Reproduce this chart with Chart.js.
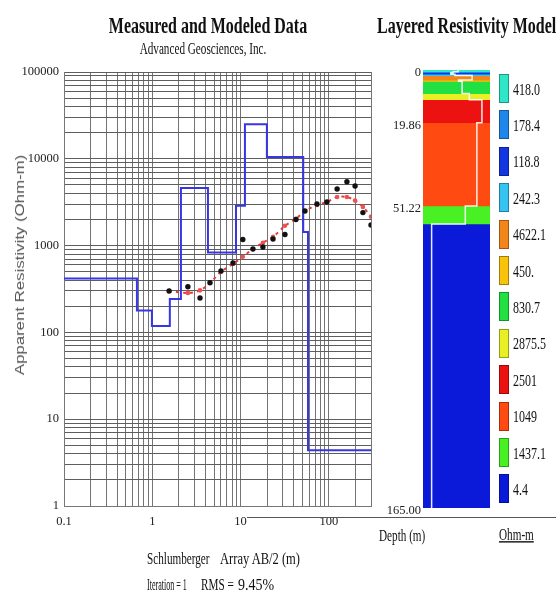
<!DOCTYPE html>
<html><head><meta charset="utf-8">
<script src="https://cdn.jsdelivr.net/npm/chart.js@4.4.1/dist/chart.umd.min.js"></script>
<style>
html,body{margin:0;padding:0;background:#fff;}
body{width:556px;height:593px;position:relative;overflow:hidden;font-family:"Liberation Serif","DejaVu Serif",serif;color:#111;}
.t{position:absolute;white-space:nowrap;line-height:1;}
.c{transform:translate(-50%,-50%) scaleY(1.4);}
.l{transform:translate(0,-50%) scaleY(1.4);transform-origin:left center;}
#c1{position:absolute;left:0;top:0;}
#c2{position:absolute;left:380px;top:0;}
.sw{position:absolute;width:8px;border:1px solid rgba(0,0,0,0.35);}
</style></head><body>
<canvas id="c1" width="380" height="593" style="width:380px;height:593px"></canvas>
<canvas id="c2" width="176" height="593" style="width:176px;height:593px"></canvas>
<div class="t c" style="left:208px;top:26px;font-weight:bold;font-size:16px;">Measured and Modeled Data</div>
<div class="t c" style="left:203px;top:49px;font-size:11.2px;">Advanced Geosciences, Inc.</div>
<div class="t l" style="left:377px;top:26px;font-weight:bold;font-size:16px;">Layered Resistivity Model</div>
<div class="t" style="left:20px;top:265px;font-family:'Liberation Sans',Arial,sans-serif;font-size:12px;color:#555;transform:translate(-50%,-50%) rotate(-90deg) scaleX(1.4);">Apparent Resistivity (Ohm-m)</div>
<div class="t l" style="left:147px;top:559px;font-size:11.2px;">Schlumberger</div>
<div class="t" style="left:220px;top:559px;font-size:11.2px;transform:translate(0,-50%) scale(1.12,1.4);transform-origin:left center;">Array AB/2 (m)</div>
<div class="t" style="left:147px;top:585px;font-size:11.2px;transform:translate(0,-50%) scale(0.72,1.4);transform-origin:left center;">Iteration = 1</div>
<div class="t l" style="left:201px;top:585px;font-size:11.2px;">RMS =</div>
<div class="t" style="left:238px;top:585px;font-size:11.2px;transform:translate(0,-50%) scale(1.25,1.4);transform-origin:left center;">9.45%</div>
<div class="t l" style="left:379px;top:536px;font-size:11.2px;">Depth (m)</div>
<div class="t l" style="left:499px;top:535px;font-size:11.2px;text-decoration:underline;">Ohm-m</div>
<div style="position:absolute;left:247px;top:517px;width:309px;height:1px;background:#555;"></div>
<div id="legend"></div>
<script>
// ---- Left chart data ----
const xGrid = [0.1,0.2,0.3,0.4,0.5,0.6,0.7,0.8,0.9,1,2,3,4,5,6,7,8,9,10,20,30,40,50,60,70,80,90,100,200,300];
const xTickValues = [0.1, 1, 10, 100];
const xTickLabels = ['0.1', '1', '10', '100'];
const yGrid = [1,2,3,4,5,6,7,8,9,10,20,30,40,50,60,70,80,90,100,200,300,400,500,600,700,800,900,
  1000,2000,3000,4000,5000,6000,7000,8000,9000,10000,20000,30000,40000,50000,60000,70000,80000,90000,100000];
const yTickValues = [1, 10, 100, 1000, 10000, 100000];
const yTickLabels = ['1', '10', '100', '1000', '10000', '100000'];

const abMeasured = [1.55, 2.53, 3.47, 4.5, 6.0, 8.2, 10.6, 13.8, 17.9, 23.3, 31.8, 42.4, 53.6, 73.3, 95, 124, 160, 198, 243, 300];
const rhoMeasured = [300, 336, 249, 374, 510, 630, 1175, 915, 963, 1190, 1343, 2000, 2505, 3015, 3180, 4490, 5450, 4860, 2400, 1725];
const rhoCalculated = [300, 285, 305, 370, 500, 615, 745, 915, 1080, 1260, 1690, 2040, 2500, 2940, 3180, 3630, 3630, 3300, 2790, 2150];

const modelAB = [0.1, 0.67, 0.99, 1.58, 2.11, 4.27, 8.87, 11.2, 19.86, 51.22, 58.0, 300];
const modelRho = [418, 178.4, 118.8, 242.3, 4622.1, 830.7, 2875.5, 25010, 10490, 1437.1, 4.4, 4.4];

// ---- Right column data ----
const layerLabels = ['418.0','178.4','118.8','242.3','4622.1','450.','830.7','2875.5','2501','1049','1437.1','4.4'];
const layerRes = [418.0, 178.4, 118.8, 242.3, 4622.1, 450, 830.7, 2875.5, 25010, 10490, 1437.1, 4.4];
const layerDepth = [0, 0.67, 0.99, 1.58, 2.11, 3.8, 4.27, 8.87, 11.2, 19.86, 51.22, 58.0, 165];
const layerColors = ['#2ee6c8','#1f86ea','#1236e0','#35c3f2','#f3861a','#f8c30a','#22e042','#e8f024','#ec1212','#ff4a12','#48f024','#0a1ad8'];
const depthTickValues = [0, 19.86, 51.22, 165];
const depthTickLabels = ['0', '19.86', '51.22', '165.00'];

Chart.defaults.font.family = "'Liberation Serif', serif";
Chart.defaults.color = '#222';

const pts = (xs, ys) => xs.map((x, i) => ({x: x, y: ys[i]}));

new Chart(document.getElementById('c1'), {
  type: 'scatter',
  data: {
    datasets: [
      {label: 'Measured', data: pts(abMeasured, rhoMeasured), showLine: false,
       pointRadius: 2.7, pointBackgroundColor: '#111', pointBorderColor: '#111', pointBorderWidth: 0, order: 0},
      {label: 'Calculated', data: pts(abMeasured, rhoCalculated), showLine: true, tension: 0.3,
       borderColor: '#e23a3a', borderWidth: 2, borderDash: [3, 4],
       pointRadius: 2.3, pointBackgroundColor: '#f05050', pointBorderWidth: 0, order: 1},
      {label: 'Model', data: pts(modelAB, modelRho), showLine: true, stepped: true,
       borderColor: '#3636e4', borderWidth: 2, pointRadius: 0, order: 2}
    ]
  },
  options: {
    responsive: false, animation: false, devicePixelRatio: 1,
    layout: {padding: {left: 0, right: 9, top: 72, bottom: 53}},
    plugins: {legend: {display: false}, tooltip: {enabled: false}},
    scales: {
      x: {
        type: 'logarithmic', min: 0.1, max: 300,
        afterBuildTicks: s => { s.ticks = xGrid.map(v => ({value: v})); },
        afterFit: s => { s.height = 34; },
        ticks: {autoSkip: false, maxRotation: 0, padding: 8, font: {size: 12.5},
          callback: v => { const i = xTickValues.indexOf(v); return i >= 0 ? xTickLabels[i] : ''; }},
        grid: {color: '#747474', lineWidth: 1, drawTicks: false},
        border: {color: '#777'}
      },
      y: {
        type: 'logarithmic', min: 1, max: 100000,
        afterBuildTicks: s => { s.ticks = yGrid.map(v => ({value: v})); },
        afterFit: s => { s.width = 64; },
        ticks: {autoSkip: false, padding: 5, font: {size: 12.5},
          callback: v => { const i = yTickValues.indexOf(v); return i >= 0 ? yTickLabels[i] : ''; }},
        grid: {color: '#5e5e5e', lineWidth: 1, drawTicks: false},
        border: {color: '#777'}
      }
    }
  }
});

// column chart
const barSets = layerRes.map((r, i) => ({
  type: 'bar', label: layerLabels[i], data: [[layerDepth[i], layerDepth[i + 1]]],
  backgroundColor: layerColors[i], borderWidth: 0, grouped: false,
  barPercentage: 1, categoryPercentage: 1, xAxisID: 'x', yAxisID: 'y', order: 1
}));
const stepPts = [];
layerRes.forEach((r, i) => { stepPts.push({x: r, y: layerDepth[i]}); stepPts.push({x: r, y: layerDepth[i + 1]}); });

new Chart(document.getElementById('c2'), {
  type: 'bar',
  data: {
    labels: ['Layers'],
    datasets: barSets.concat([{
      type: 'line', label: 'Model', data: stepPts, xAxisID: 'x2', yAxisID: 'y',
      borderColor: 'rgba(255,255,255,0.9)', borderWidth: 1.5, pointRadius: 0, fill: false, order: 0
    }])
  },
  options: {
    responsive: false, animation: false, devicePixelRatio: 1,
    layout: {padding: {left: 0, right: 66, top: 70, bottom: 85}},
    plugins: {legend: {display: false}, tooltip: {enabled: false}},
    scales: {
      x: {type: 'category', display: false},
      x2: {type: 'logarithmic', display: false, min: 1, max: 100000},
      y: {
        type: 'linear', reverse: true, min: 0, max: 165,
        afterBuildTicks: s => { s.ticks = depthTickValues.map(v => ({value: v})); },
        afterFit: s => { s.width = 43; },
        ticks: {autoSkip: false, padding: 2, labelOffset: 3, font: {size: 12.5},
          callback: v => { const i = depthTickValues.indexOf(v); return i >= 0 ? depthTickLabels[i] : ''; }},
        grid: {display: false, drawTicks: false},
        border: {display: false}
      }
    }
  }
});

// legend
const lg = document.getElementById('legend');
layerLabels.forEach((lab, i) => {
  const top = 74 + i * 36.4;
  const sw = document.createElement('div');
  sw.className = 'sw';
  sw.style.left = '499px'; sw.style.top = top + 'px'; sw.style.height = '27px';
  sw.style.background = layerColors[i];
  lg.appendChild(sw);
  const tx = document.createElement('div');
  tx.className = 't l';
  tx.style.left = '513px'; tx.style.top = (top + 14.5) + 'px'; tx.style.fontSize = '12px';
  tx.textContent = lab;
  lg.appendChild(tx);
});
</script>
</body></html>
